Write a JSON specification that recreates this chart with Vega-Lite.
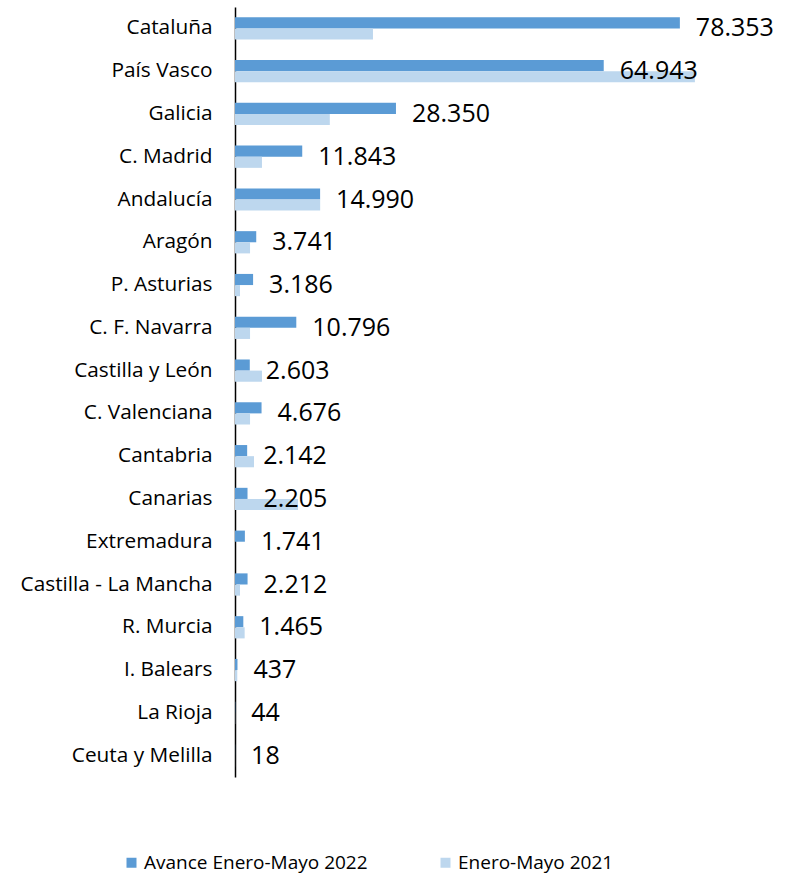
{
  "$schema": "https://vega.github.io/schema/vega-lite/v6.json",
  "width": 511,
  "height": 770,
  "autosize": {"type": "none"},
  "padding": {"left": 235, "top": 7, "right": 46, "bottom": 100},
  "background": "white",
  "config": {
    "view": {"stroke": null},
    "font": "Open Sans",
    "locale": {"number": {"decimal": ",", "thousands": ".", "grouping": [3], "currency": ["", " €"]}}
  },
  "data": {
    "values": [
      {"region": "Cataluña", "serie": "Avance Enero-Mayo 2022", "value": 78353},
      {"region": "Cataluña", "serie": "Enero-Mayo 2021", "value": 24300},
      {"region": "País Vasco", "serie": "Avance Enero-Mayo 2022", "value": 64943},
      {"region": "País Vasco", "serie": "Enero-Mayo 2021", "value": 81000},
      {"region": "Galicia", "serie": "Avance Enero-Mayo 2022", "value": 28350},
      {"region": "Galicia", "serie": "Enero-Mayo 2021", "value": 16700},
      {"region": "C. Madrid", "serie": "Avance Enero-Mayo 2022", "value": 11843},
      {"region": "C. Madrid", "serie": "Enero-Mayo 2021", "value": 4750},
      {"region": "Andalucía", "serie": "Avance Enero-Mayo 2022", "value": 14990},
      {"region": "Andalucía", "serie": "Enero-Mayo 2021", "value": 15000},
      {"region": "Aragón", "serie": "Avance Enero-Mayo 2022", "value": 3741},
      {"region": "Aragón", "serie": "Enero-Mayo 2021", "value": 2650},
      {"region": "P. Asturias", "serie": "Avance Enero-Mayo 2022", "value": 3186},
      {"region": "P. Asturias", "serie": "Enero-Mayo 2021", "value": 880},
      {"region": "C. F. Navarra", "serie": "Avance Enero-Mayo 2022", "value": 10796},
      {"region": "C. F. Navarra", "serie": "Enero-Mayo 2021", "value": 2650},
      {"region": "Castilla y León", "serie": "Avance Enero-Mayo 2022", "value": 2603},
      {"region": "Castilla y León", "serie": "Enero-Mayo 2021", "value": 4750},
      {"region": "C. Valenciana", "serie": "Avance Enero-Mayo 2022", "value": 4676},
      {"region": "C. Valenciana", "serie": "Enero-Mayo 2021", "value": 2650},
      {"region": "Cantabria", "serie": "Avance Enero-Mayo 2022", "value": 2142},
      {"region": "Cantabria", "serie": "Enero-Mayo 2021", "value": 3350},
      {"region": "Canarias", "serie": "Avance Enero-Mayo 2022", "value": 2205},
      {"region": "Canarias", "serie": "Enero-Mayo 2021", "value": 11100},
      {"region": "Extremadura", "serie": "Avance Enero-Mayo 2022", "value": 1741},
      {"region": "Extremadura", "serie": "Enero-Mayo 2021", "value": 0},
      {"region": "Castilla - La Mancha", "serie": "Avance Enero-Mayo 2022", "value": 2212},
      {"region": "Castilla - La Mancha", "serie": "Enero-Mayo 2021", "value": 880},
      {"region": "R. Murcia", "serie": "Avance Enero-Mayo 2022", "value": 1465},
      {"region": "R. Murcia", "serie": "Enero-Mayo 2021", "value": 1700},
      {"region": "I. Balears", "serie": "Avance Enero-Mayo 2022", "value": 437},
      {"region": "I. Balears", "serie": "Enero-Mayo 2021", "value": 400},
      {"region": "La Rioja", "serie": "Avance Enero-Mayo 2022", "value": 44},
      {"region": "La Rioja", "serie": "Enero-Mayo 2021", "value": 30},
      {"region": "Ceuta y Melilla", "serie": "Avance Enero-Mayo 2022", "value": 18},
      {"region": "Ceuta y Melilla", "serie": "Enero-Mayo 2021", "value": 10}
    ]
  },
  "encoding": {
    "y": {
      "field": "region",
      "type": "nominal",
      "sort": ["Cataluña", "País Vasco", "Galicia", "C. Madrid", "Andalucía", "Aragón", "P. Asturias", "C. F. Navarra", "Castilla y León", "C. Valenciana", "Cantabria", "Canarias", "Extremadura", "Castilla - La Mancha", "R. Murcia", "I. Balears", "La Rioja", "Ceuta y Melilla"],
      "scale": {"paddingInner": 0.48, "paddingOuter": 0.24},
      "axis": {
        "title": null,
        "ticks": false,
        "labelFontSize": 20.8,
        "labelColor": "#000000",
        "labelPadding": 23,
        "labelLimit": 300,
        "domainColor": "#000000",
        "domainWidth": 1.5
      }
    },
    "x": {
      "field": "value",
      "type": "quantitative",
      "scale": {"domain": [0, 90000], "nice": false},
      "axis": null
    }
  },
  "layer": [
    {
      "mark": {"type": "bar"},
      "encoding": {
        "yOffset": {"field": "serie", "type": "nominal", "sort": ["Avance Enero-Mayo 2022", "Enero-Mayo 2021"]},
        "color": {
          "field": "serie",
          "type": "nominal",
          "sort": ["Avance Enero-Mayo 2022", "Enero-Mayo 2021"],
          "scale": {"domain": ["Avance Enero-Mayo 2022", "Enero-Mayo 2021"], "range": ["#5B9BD5", "#BDD7EE"]},
          "legend": {
            "title": null,
            "orient": "none",
            "legendX": -113,
            "legendY": 846,
            "direction": "horizontal",
            "symbolType": "square",
            "symbolSize": 100,
            "symbolStrokeWidth": 0,
            "labelFontSize": 19,
            "labelColor": "#000000",
            "labelOffset": 3,
            "columnPadding": 68,
            "labelLimit": 400
          }
        }
      }
    },
    {
      "transform": [{"filter": "datum.serie === 'Avance Enero-Mayo 2022'"}],
      "mark": {"type": "text", "align": "left", "baseline": "middle", "dx": 16, "fontSize": 25, "color": "#000000"},
      "encoding": {
        "text": {"field": "value", "type": "quantitative", "format": ",d"}
      }
    }
  ]
}
